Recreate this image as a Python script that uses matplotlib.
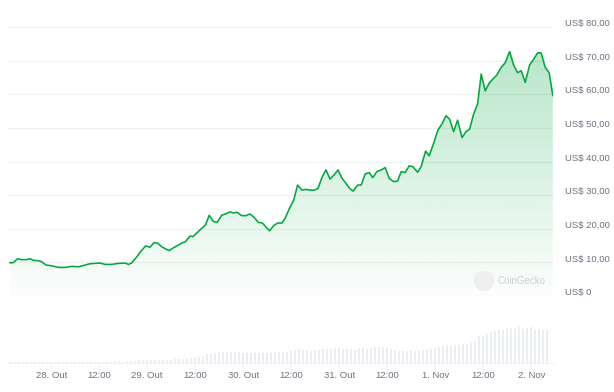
import numpy as np
import matplotlib
matplotlib.use("Agg")
import matplotlib.pyplot as plt
from matplotlib.transforms import offset_copy, blended_transform_factory
from matplotlib.patches import Ellipse

# ---------------- data ----------------
# hours relative to 28 Out 00:00
price_hours = [-10.3, -9.5, -8.4, -7.4, -6.3, -5.3, -4.5, -3.2, -2.4, -1.3, 0.1, 1.8, 3.5, 5.1, 6.8,
               8.5, 9.7, 12.2, 13.5, 15.1, 16.8, 18.5, 19.3, 20.1, 21.3, 22.5, 23.6, 24.7, 25.7,
               26.6, 27.6, 28.6, 29.5, 30.5, 31.6, 32.6, 33.6, 34.7, 35.5, 36.8, 37.9, 38.6, 39.5,
               40.5, 41.5, 42.6, 43.6, 44.7, 45.5, 46.5, 47.6, 48.7, 49.7, 50.7, 51.8, 52.8, 53.7,
               54.6, 55.6, 56.6, 57.7, 58.5, 59.7, 60.6, 61.6, 62.7, 63.7, 64.9, 65.8, 66.7, 67.7,
               68.7, 69.7, 70.7, 71.7, 72.7, 73.7, 74.6, 75.5, 76.6, 77.5, 78.5, 79.5, 80.4, 81.4,
               82.5, 83.5, 84.5, 85.6, 86.6, 87.5, 88.5, 89.5, 90.4, 91.6, 92.5, 93.6, 94.5, 95.6,
               96.7, 97.7, 98.7, 99.6, 100.6, 101.6, 102.7, 103.7, 104.6, 105.6, 106.6, 107.5, 108.5,
               109.5, 110.4, 111.4, 112.5, 113.5, 114.6, 115.6, 116.6, 117.5, 118.5, 119.6, 120.6,
               121.6, 122.5, 123.5, 124.5, 125.4]
price_values = [9.9, 9.9, 11.1, 10.8, 10.8, 11.1, 10.6, 10.5, 10.2, 9.2, 9.0, 8.5, 8.5, 8.8, 8.7,
                9.2, 9.6, 9.8, 9.4, 9.4, 9.7, 9.8, 9.4, 9.8, 11.5, 13.4, 14.9, 14.5, 15.9,
                15.7, 14.7, 14.0, 13.5, 14.3, 15.0, 15.7, 16.2, 17.8, 17.7, 19.2, 20.4, 21.2, 24.0,
                22.2, 21.9, 24.0, 24.4, 25.0, 24.7, 24.9, 23.9, 23.9, 24.4, 23.4, 21.9, 21.7, 20.5,
                19.4, 20.9, 21.7, 21.7, 23.2, 26.4, 28.4, 33.0, 31.5, 31.7, 31.5, 31.5, 32.0, 35.3,
                37.5, 34.8, 36.0, 37.5, 35.0, 33.5, 32.0, 31.2, 33.0, 33.0, 36.3, 36.7, 35.2, 37.0,
                37.5, 38.2, 35.0, 34.0, 34.2, 37.0, 36.7, 38.7, 38.5, 36.8, 38.5, 43.1, 41.7, 45.4,
                49.4, 51.2, 53.6, 52.6, 48.9, 52.3, 47.1, 48.9, 49.6, 54.1, 57.1, 66.0, 61.0,
                63.3, 64.5, 65.7, 68.0, 69.4, 72.7, 68.7, 66.4, 67.0, 63.5, 68.7, 70.4,
                72.3, 72.3, 68.0, 66.4, 59.6]

volume_hours = list(range(-10, 125))
volume_values = [1.0, 1.3, 1.3, 1.0, 1.3, 1.0, 1.3, 1.3, 1.3, 1.0,
                 1.0, 1.3, 1.3, 1.0, 1.0, 1.3, 1.3, 1.3, 1.0, 1.0,
                 1.0, 1.3, 1.0, 1.3, 1.3, 1.5, 1.7, 1.7, 1.3, 1.7,
                 2.0, 2.3, 2.7, 3.3, 3.0, 3.3, 3.3, 3.3, 3.3, 3.0,
                 3.3, 3.7, 4.3, 4.3, 4.3, 5.3, 5.3, 6.0, 6.7, 9.0,
                 9.3, 10.0, 10.7, 11.0, 11.3, 11.3, 11.3, 10.7, 9.7, 9.7,
                 9.7, 9.7, 9.7, 9.7, 9.7, 10.3,
                 10.7, 10.7, 10.7, 11.3, 12.3, 13.3, 14.3, 13.3, 12.7, 12.3,
                 12.7, 13.3, 14.3, 14.3, 14.3, 15.0, 15.0, 14.3, 14.3, 14.3,
                 13.3, 15.0, 15.0, 14.3, 15.0, 15.7, 15.7, 15.7, 15.0, 14.3,
                 12.7, 12.3, 12.3, 12.3, 12.7, 12.3, 12.3, 12.7, 13.3, 14.3,
                 15.0, 15.7, 17.3, 17.7, 17.3, 18.3, 18.3, 19.3, 19.3, 20.7,
                 22.3, 26.7, 27.3, 29.3, 31.0, 32.3, 32.7, 33.3, 35.0, 35.0,
                 35.0, 35.7, 34.0, 35.0, 35.7, 33.3, 34.0, 32.7, 32.7]

y_ticks = [0, 10, 20, 30, 40, 50, 60, 70, 80]
y_labels = ["US$ 0", "US$ 10,00", "US$ 20,00", "US$ 30,00", "US$ 40,00",
            "US$ 50,00", "US$ 60,00", "US$ 70,00", "US$ 80,00"]
x_ticks = [0, 12, 24, 36, 48, 60, 72, 84, 96, 108, 120]
x_labels = ["28. Out", "12:00", "29. Out", "12:00", "30. Out", "12:00",
            "31. Out", "12:00", "1. Nov", "12:00", "2. Nov"]

# ---------------- style ----------------
W, H = 614, 392
plt.rcParams['font.family'] = ['Liberation Sans', 'DejaVu Sans']
LINE = '#00a83e'
LABEL = '#6b7280'
GRID = '#f0f0f0'

fig = plt.figure(figsize=(W / 100, H / 100), dpi=100)
fig.patch.set_facecolor('white')

XMIN, XMAX = -10.8, 125.45
left, right = 8 / W, 553 / W
ax = fig.add_axes([left, (H - 296) / H, right - left, 269 / H])
ax.set_xlim(XMIN, XMAX)
ax.set_ylim(0, 80)
ax.axis('off')

for v in y_ticks:
    ax.axhline(v, color=GRID, lw=0.9, zorder=0)

# gradient fill
ph = np.array(price_hours)
pv = np.array(price_values)
poly = ax.fill_between(ph, pv, 0, color='none', lw=0)
n = 256
alpha = np.linspace(0.29, 0.015, n)[:, None]
rgba = np.zeros((n, 1, 4))
rgba[..., 0] = 0 / 255
rgba[..., 1] = 168 / 255
rgba[..., 2] = 62 / 255
rgba[..., 3] = alpha
img = ax.imshow(rgba, extent=[XMIN, XMAX, 0, 75], aspect='auto', origin='upper', zorder=1,
                interpolation='bilinear')
path = poly.get_paths()[0]
img.set_clip_path(path, transform=ax.transData)
ax.set_ylim(0, 80)
ax.set_xlim(XMIN, XMAX)

ax.plot(ph, pv, color=LINE, lw=1.15, zorder=3, solid_joinstyle='round')

# y labels on right
trans = blended_transform_factory(fig.transFigure, ax.transData)
trans = offset_copy(trans, fig=fig, y=3.5, units='dots')
for v, lab in zip(y_ticks, y_labels):
    ax.text(565 / W, v, lab, transform=trans, ha='left', va='center',
            fontsize=6.8, color=LABEL, clip_on=False)

# watermark
fig.patches.append(Ellipse((484 / W, (H - 281) / H), 20 / W, 20 / H, transform=fig.transFigure,
                           facecolor='#efefef', edgecolor='none', zorder=2))
fig.text(497 / W, (H - 281) / H, "CoinGecko", fontsize=7, color='#cfcfcf',
         ha='left', va='center')

# volume panel
vax = fig.add_axes([left, (H - 363) / H, right - left, 45 / H])
vax.set_xlim(XMIN, XMAX)
vax.set_ylim(0, 45)
vax.bar(volume_hours, volume_values, width=0.55, color='#eaedf2', edgecolor='none')
for s in ['top', 'left', 'right']:
    vax.spines[s].set_visible(False)
vax.spines['bottom'].set_color('#f0f1f4')
vax.spines['bottom'].set_linewidth(0.8)
vax.set_yticks([])
vax.set_xticks(x_ticks)
vax.set_xticklabels(x_labels, fontsize=6.8, color=LABEL)
vax.tick_params(axis='x', length=4, width=0.8, color='#eceef2', pad=2)
vax.patch.set_alpha(0)

fig.savefig('out.png', dpi=100, facecolor='white')
